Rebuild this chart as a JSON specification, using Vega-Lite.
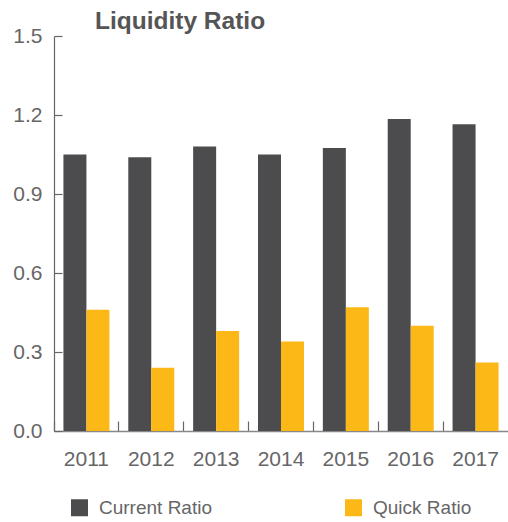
{
  "$schema": "https://vega.github.io/schema/vega-lite/v6.json",
  "autosize": {"type": "none"},
  "width": 454,
  "height": 395,
  "padding": {"left": 54, "top": 36, "right": 0, "bottom": 91},
  "background": "white",
  "title": {
    "text": "Liquidity Ratio",
    "anchor": "start",
    "frame": "group",
    "dx": 41,
    "dy": 17,
    "offset": 8,
    "font": "Liberation Sans",
    "fontSize": 24.5,
    "fontWeight": "bold",
    "color": "#555555"
  },
  "data": {
    "values": [
      {"year": "2011", "series": "Current Ratio", "value": 1.05},
      {"year": "2011", "series": "Quick Ratio", "value": 0.46},
      {"year": "2012", "series": "Current Ratio", "value": 1.04},
      {"year": "2012", "series": "Quick Ratio", "value": 0.24},
      {"year": "2013", "series": "Current Ratio", "value": 1.08},
      {"year": "2013", "series": "Quick Ratio", "value": 0.38},
      {"year": "2014", "series": "Current Ratio", "value": 1.05},
      {"year": "2014", "series": "Quick Ratio", "value": 0.34},
      {"year": "2015", "series": "Current Ratio", "value": 1.075},
      {"year": "2015", "series": "Quick Ratio", "value": 0.47},
      {"year": "2016", "series": "Current Ratio", "value": 1.185},
      {"year": "2016", "series": "Quick Ratio", "value": 0.40},
      {"year": "2017", "series": "Current Ratio", "value": 1.165},
      {"year": "2017", "series": "Quick Ratio", "value": 0.26}
    ]
  },
  "mark": {"type": "bar"},
  "encoding": {
    "x": {
      "field": "year",
      "type": "nominal",
      "scale": {"paddingInner": 0, "paddingOuter": 0},
      "axis": {
        "title": null,
        "labelAngle": 0,
        "bandPosition": 0,
        "tickSize": -10,
        "tickColor": "#666666",
        "tickWidth": 1.2,
        "domainColor": "#888888",
        "domainWidth": 1.5,
        "labelPadding": 27,
        "labelFont": "Liberation Sans",
        "labelFontSize": 21,
        "labelColor": "#666666"
      }
    },
    "xOffset": {
      "field": "series",
      "type": "nominal",
      "scale": {"paddingInner": 0, "paddingOuter": 0.41}
    },
    "y": {
      "field": "value",
      "type": "quantitative",
      "scale": {"domain": [0, 1.5], "nice": false},
      "axis": {
        "title": null,
        "values": [0, 0.3, 0.6, 0.9, 1.2, 1.5],
        "format": ".1f",
        "grid": false,
        "tickSize": -8,
        "tickColor": "#666666",
        "tickWidth": 1.2,
        "domainColor": "#666666",
        "domainWidth": 1.2,
        "labelPadding": 20,
        "labelFont": "Liberation Sans",
        "labelFontSize": 21,
        "labelColor": "#666666"
      }
    },
    "color": {
      "field": "series",
      "type": "nominal",
      "scale": {"domain": ["Current Ratio", "Quick Ratio"], "range": ["#4c4c4e", "#fbb817"]},
      "legend": {
        "title": null,
        "orient": "none",
        "legendX": 16,
        "legendY": 462,
        "direction": "horizontal",
        "columns": 2,
        "columnPadding": 132,
        "padding": 0,
        "symbolType": "square",
        "symbolSize": 289,
        "symbolStrokeWidth": 0,
        "labelOffset": 10,
        "labelFont": "Liberation Sans",
        "labelFontSize": 19,
        "labelColor": "#666666"
      }
    }
  },
  "config": {"view": {"stroke": null}}
}
